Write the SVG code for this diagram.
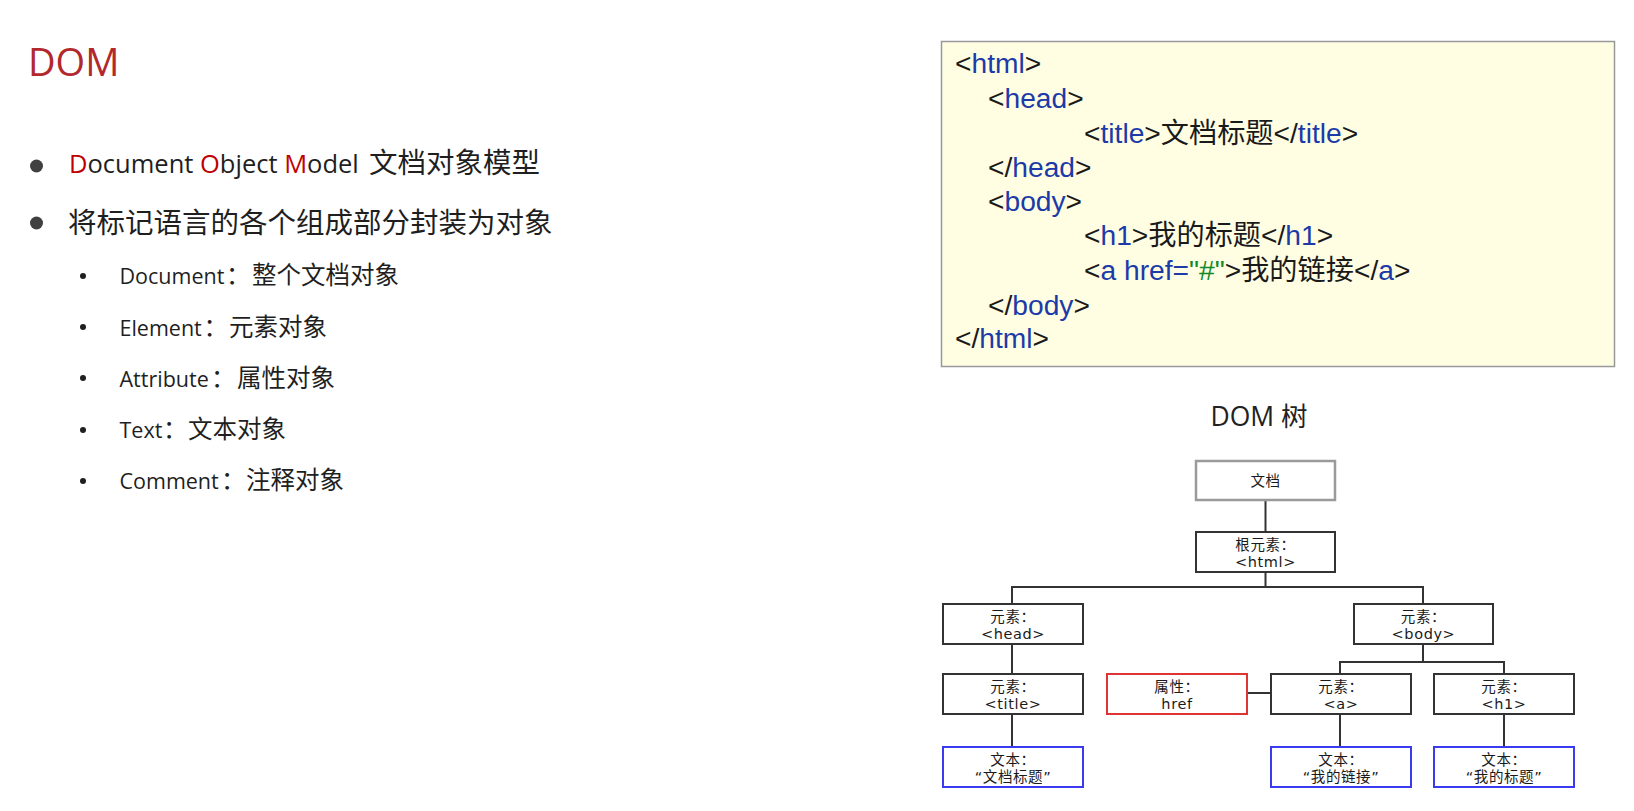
<svg xmlns="http://www.w3.org/2000/svg" width="1634" height="811" viewBox="0 0 1634 811">
<style>
.lat{font-family:"Open Sans","Noto Sans CJK SC",sans-serif;fill:#1f1f1f}
.cjk{font-family:"Noto Sans CJK SC","Open Sans",sans-serif;fill:#1f1f1f}
.red{fill:#c00000}
.code{font-family:"Liberation Sans","Noto Sans CJK SC",sans-serif;font-size:28.2px;fill:#1a1a1a}
.tag{fill:#1c3aa8}
.str{fill:#118a2a}
.box{fill:#ffffff;stroke:#333333;stroke-width:2}
.doc{fill:#ffffff;stroke:#9a9a9a;stroke-width:2.5}
.attr{fill:#ffffff;stroke:#e03333;stroke-width:2}
.txt{fill:#ffffff;stroke:#3a3aee;stroke-width:2}
.lbl{font-family:"DejaVu Sans","Noto Sans CJK SC",sans-serif;font-size:14.5px;fill:#1a1a1a;text-anchor:middle;letter-spacing:0.6px}
.conn{stroke:#333333;stroke-width:2;fill:none}
</style>
<rect x="0" y="0" width="1634" height="811" fill="#ffffff"/>

<g id="left-text">
<text class="lat" x="28" y="76" font-size="38" style="fill:#b3282d">DOM</text>
<circle cx="36.5" cy="166" r="6.5" fill="#404040"/>
<text class="lat" x="69" y="173" font-size="25.5"><tspan class="red">D</tspan>ocument <tspan class="red">O</tspan>bject <tspan class="red">M</tspan>odel<tspan class="cjk" x="369" font-size="28.5">文档对象模型</tspan></text>
<circle cx="36.5" cy="223" r="6.5" fill="#404040"/>
<text class="cjk" x="68" y="233" font-size="28.5">将标记语言的各个组成部分封装为对象</text>

<circle cx="83" cy="276" r="3" fill="#1f1f1f"/>
<text class="lat" x="119.5" y="284" font-size="21.5">Document<tspan class="cjk" x="226" font-size="24.5">：</tspan><tspan class="cjk" x="252" font-size="24.5">整个文档对象</tspan></text>
<circle cx="83" cy="327" r="3" fill="#1f1f1f"/>
<text class="lat" x="119.5" y="336" font-size="21.5">Element<tspan class="cjk" x="203.5" font-size="24.5">：</tspan><tspan class="cjk" x="229" font-size="24.5">元素对象</tspan></text>
<circle cx="83" cy="378" r="3" fill="#1f1f1f"/>
<text class="lat" x="119.5" y="387" font-size="21.5">Attribute<tspan class="cjk" x="211" font-size="24.5">：</tspan><tspan class="cjk" x="237" font-size="24.5">属性对象</tspan></text>
<circle cx="83" cy="430" r="3" fill="#1f1f1f"/>
<text class="lat" x="119.5" y="438" font-size="21.5">Text<tspan class="cjk" x="163" font-size="24.5">：</tspan><tspan class="cjk" x="188" font-size="24.5">文本对象</tspan></text>
<circle cx="83" cy="481" r="3" fill="#1f1f1f"/>
<text class="lat" x="119.5" y="489" font-size="21.5">Comment<tspan class="cjk" x="221" font-size="24.5">：</tspan><tspan class="cjk" x="246" font-size="24.5">注释对象</tspan></text>
</g>

<g id="code-box">
<rect x="941.5" y="41.5" width="673" height="325" fill="#fffee3" stroke="#999999" stroke-width="1.5"/>
<text class="code" x="955" y="73">&lt;<tspan class="tag">html</tspan>&gt;</text>
<text class="code" x="988" y="108">&lt;<tspan class="tag">head</tspan>&gt;</text>
<text class="code" x="1084" y="143">&lt;<tspan class="tag">title</tspan>&gt;文档标题&lt;/<tspan class="tag">title</tspan>&gt;</text>
<text class="code" x="988" y="177">&lt;/<tspan class="tag">head</tspan>&gt;</text>
<text class="code" x="988" y="211">&lt;<tspan class="tag">body</tspan>&gt;</text>
<text class="code" x="1084" y="245">&lt;<tspan class="tag">h1</tspan>&gt;我的标题&lt;/<tspan class="tag">h1</tspan>&gt;</text>
<text class="code" x="1084" y="280">&lt;<tspan class="tag">a href=</tspan><tspan class="str">"#"</tspan>&gt;我的链接&lt;/<tspan class="tag">a</tspan>&gt;</text>
<text class="code" x="988" y="315">&lt;/<tspan class="tag">body</tspan>&gt;</text>
<text class="code" x="955" y="348">&lt;/<tspan class="tag">html</tspan>&gt;</text>
</g>

<text class="lat" x="1259" y="426" font-size="26.5" text-anchor="middle" style="fill:#222">DOM 树</text>

<g id="connectors">
<path class="conn" d="M1265.5 500 V532"/>
<path class="conn" d="M1265.5 572 V587 M1012 587 H1423 M1012 586 V604 M1423 586 V604"/>
<path class="conn" d="M1012 644 V674 M1012 714 V747"/>
<path class="conn" d="M1423 644 V662 M1340 662 H1504 M1340 661 V674 M1504 661 V674"/>
<path class="conn" d="M1247 693 H1271"/>
<path class="conn" d="M1340 714 V747 M1504 714 V747"/>
</g>

<g id="node-doc">
<rect class="doc" x="1196" y="461" width="139" height="39"/>
<text class="lbl" x="1265.5" y="486" font-size="15.5">文档</text>
</g>
<g id="node-html">
<rect class="box" x="1196" y="532" width="139" height="40"/>
<text class="lbl" x="1265.5" y="550">根元素：</text>
<text class="lbl" x="1265.5" y="567">&lt;html&gt;</text>
</g>
<g id="node-head">
<rect class="box" x="943" y="604" width="140" height="40"/>
<text class="lbl" x="1013" y="622">元素：</text>
<text class="lbl" x="1013" y="639">&lt;head&gt;</text>
</g>
<g id="node-body">
<rect class="box" x="1354" y="604" width="139" height="40"/>
<text class="lbl" x="1423.5" y="622">元素：</text>
<text class="lbl" x="1423.5" y="639">&lt;body&gt;</text>
</g>
<g id="node-title">
<rect class="box" x="943" y="674" width="140" height="40"/>
<text class="lbl" x="1013" y="692">元素：</text>
<text class="lbl" x="1013" y="709">&lt;title&gt;</text>
</g>
<g id="node-attr">
<rect class="attr" x="1107" y="674" width="140" height="40"/>
<text class="lbl" x="1177" y="692">属性：</text>
<text class="lbl" x="1177" y="709">href</text>
</g>
<g id="node-a">
<rect class="box" x="1271" y="674" width="140" height="40"/>
<text class="lbl" x="1341" y="692">元素：</text>
<text class="lbl" x="1341" y="709">&lt;a&gt;</text>
</g>
<g id="node-h1">
<rect class="box" x="1434" y="674" width="140" height="40"/>
<text class="lbl" x="1504" y="692">元素：</text>
<text class="lbl" x="1504" y="709">&lt;h1&gt;</text>
</g>
<g id="node-text-title">
<rect class="txt" x="943" y="747" width="140" height="40"/>
<text class="lbl" x="1013" y="765">文本：</text>
<text class="lbl" x="1013" y="782">“文档标题”</text>
</g>
<g id="node-text-a">
<rect class="txt" x="1271" y="747" width="140" height="40"/>
<text class="lbl" x="1341" y="765">文本：</text>
<text class="lbl" x="1341" y="782">“我的链接”</text>
</g>
<g id="node-text-h1">
<rect class="txt" x="1434" y="747" width="140" height="40"/>
<text class="lbl" x="1504" y="765">文本：</text>
<text class="lbl" x="1504" y="782">“我的标题”</text>
</g>
</svg>
